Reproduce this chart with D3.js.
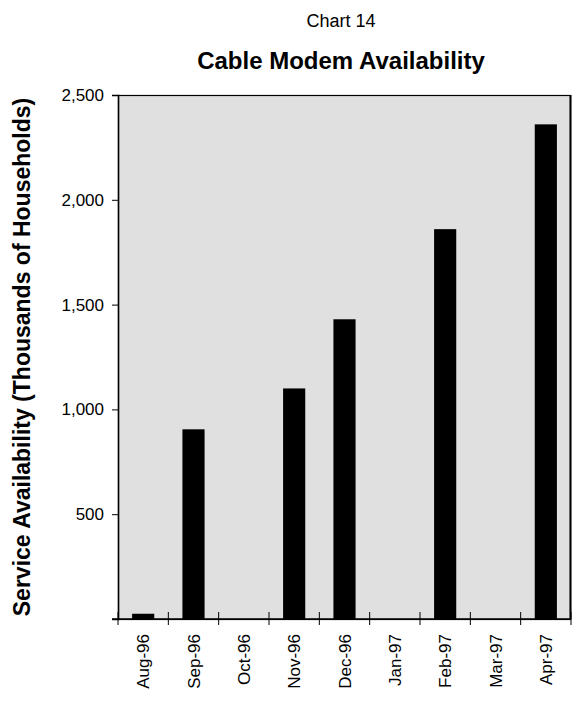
<!DOCTYPE html>
<html>
<head>
<meta charset="utf-8">
<script src="https://cdn.jsdelivr.net/npm/d3@7"></script>
<style>
  html, body { margin: 0; padding: 0; background: #ffffff; }
  svg { display: block; font-family: Arial, "Liberation Sans", sans-serif; }
</style>
</head>
<body>
<svg id="chart" width="579" height="703"></svg>
<script>
const categories = ["Aug-96", "Sep-96", "Oct-96", "Nov-96", "Dec-96", "Jan-97", "Feb-97", "Mar-97", "Apr-97"];
const values = [25, 905, 0, 1100, 1430, 0, 1860, 0, 2360];
const yTicks = [0, 500, 1000, 1500, 2000, 2500];
const chartNumber = "Chart 14";
const chartTitle = "Cable Modem Availability";
const yLabel = "Service Availability (Thousands of Households)";

const svg = d3.select("#chart");
const m = { left: 118, right: 571, top: 95, bottom: 619 };

const x = d3.scaleBand().domain(categories).range([m.left, m.right]).padding(0);
const y = d3.scaleLinear().domain([0, 2500]).range([m.bottom, m.top]);

// plot background
svg.append("rect")
  .attr("x", m.left).attr("y", m.top)
  .attr("width", m.right - m.left).attr("height", m.bottom - m.top)
  .attr("fill", "#e0e0e0");

// bars
const barFrac = 0.44;
svg.append("g").selectAll("rect")
  .data(categories.map((c, i) => ({ c, v: values[i] })).filter(d => d.v > 0))
  .join("rect")
  .attr("x", d => x(d.c) + x.bandwidth() * (1 - barFrac) / 2)
  .attr("width", x.bandwidth() * barFrac)
  .attr("y", d => y(d.v))
  .attr("height", d => y(0) - y(d.v))
  .attr("fill", "#000");

// plot border
svg.append("rect")
  .attr("x", m.left + 0.5).attr("y", m.top + 0.5)
  .attr("width", m.right - m.left - 1).attr("height", m.bottom - m.top)
  .attr("fill", "none").attr("stroke", "#000").attr("stroke-width", 1.2);
svg.append("line")
  .attr("x1", m.right - 0.5).attr("x2", m.right - 0.5)
  .attr("y1", m.top).attr("y2", m.bottom)
  .attr("stroke", "#000").attr("stroke-width", 2);

// y axis
const yAxis = d3.axisLeft(y).tickValues(yTicks).tickSize(6).tickPadding(8)
  .tickFormat(d => d === 0 ? "" : d3.format(",")(d));
const gy = svg.append("g").attr("transform", `translate(${m.left},0)`).call(yAxis);
gy.select(".domain").attr("stroke", "#000").attr("stroke-width", 1.5);
gy.selectAll(".tick line").attr("stroke", "#000");
gy.selectAll(".tick text").attr("font-size", 17).attr("fill", "#000")
  .attr("font-family", "Arial, 'Liberation Sans', sans-serif");

// x axis: boundary ticks crossing the axis
const boundaries = categories.map(c => x(c)).concat([m.right]);
svg.append("line")
  .attr("x1", m.left - 6).attr("x2", m.right)
  .attr("y1", m.bottom).attr("y2", m.bottom)
  .attr("stroke", "#000").attr("stroke-width", 1.5);
svg.append("g").selectAll("line").data(boundaries).join("line")
  .attr("x1", d => d).attr("x2", d => d)
  .attr("y1", m.bottom - 7).attr("y2", m.bottom + 6)
  .attr("stroke", "#000").attr("stroke-width", 1);

svg.append("g").selectAll("text").data(categories).join("text")
  .attr("transform", d => `translate(${x(d) + x.bandwidth() / 2 + 6},${m.bottom + 15}) rotate(-90)`)
  .attr("text-anchor", "end")
  .attr("font-size", 17)
  .attr("fill", "#000")
  .text(d => d);

// titles
svg.append("text")
  .attr("x", 341).attr("y", 27)
  .attr("text-anchor", "middle").attr("font-size", 18).attr("fill", "#000")
  .text(chartNumber);
svg.append("text")
  .attr("x", 341).attr("y", 69)
  .attr("text-anchor", "middle").attr("font-size", 24).attr("font-weight", "bold").attr("fill", "#000")
  .text(chartTitle);

// y label
svg.append("text")
  .attr("transform", `translate(30,${(m.top + m.bottom) / 2}) rotate(-90)`)
  .attr("text-anchor", "middle").attr("font-size", 23).attr("font-weight", "bold").attr("fill", "#000")
  .text(yLabel);
</script>
</body>
</html>
